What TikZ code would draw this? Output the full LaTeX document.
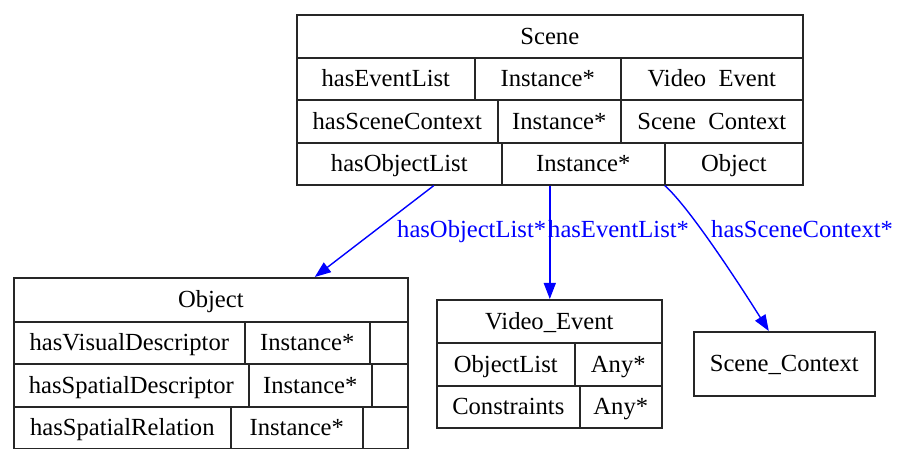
\documentclass[tikz,border=0pt]{standalone}
\usepackage{fontspec}
\setmainfont{Liberation Serif}
\usetikzlibrary{arrows.meta}

% one table cell: name, left, top, right, bottom, text
\newcommand{\tcell}[6]{%
  \node[tcellbox, minimum width={(#4-#2)*1pt}, minimum height={(#5-#3)*1pt}]
    (#1) at (#2,#3) {#6};}

\begin{document}
\begin{tikzpicture}[x=1pt, y=-1pt,
  tcellbox/.style={draw=black!85, line width=1.6pt, anchor=north west,
    inner sep=0pt, text height=20pt, text depth=4pt,
    font=\fontsize{24.6}{28}\selectfont},
  tablebox/.style={draw=black!85, line width=1.6pt, anchor=north west,
    inner sep=0pt},
  link/.style={draw={rgb,255:red,0;green,0;blue,255}, line width=1.4pt,
    -{Triangle[length=16pt, width=12pt]}},
  linklabel/.style={text={rgb,255:red,0;green,0;blue,255}, inner sep=0pt,
    anchor=base west, font=\fontsize{24.6}{28}\selectfont}]

\useasboundingbox[fill=white] (0,0) rectangle (898,449);

% Scene table
\node[tablebox, minimum width=506pt, minimum height=170pt] (scene) at (296,14) {};
\tcell{sceneT}{296}{14}{802}{57}{Scene}
\tcell{sA1}{296}{57}{474}{99}{hasEventList}
\tcell{sA2}{474}{57}{620}{99}{Instance*}
\tcell{sA3}{620}{57}{802}{99}{Video\ \ Event}
\tcell{sB1}{296}{99}{497}{142}{hasSceneContext}
\tcell{sB2}{497}{99}{620}{142}{Instance*}
\tcell{sB3}{620}{99}{802}{142}{Scene\ \ Context}
\tcell{sC1}{296}{142}{501}{184}{hasObjectList}
\tcell{sC2}{501}{142}{664}{184}{Instance*}
\tcell{sC3}{664}{142}{802}{184}{Object}

% Object table
\node[tablebox, minimum width=394pt, minimum height=171pt] (object) at (13,277) {};
\tcell{objT}{13}{277}{407}{321}{Object}
\tcell{oA1}{13}{321}{244}{363}{hasVisualDescriptor}
\tcell{oA2}{244}{321}{369}{363}{Instance*}
\tcell{oA3}{369}{321}{407}{363}{}
\tcell{oB1}{13}{363}{248}{406}{hasSpatialDescriptor}
\tcell{oB2}{248}{363}{371}{406}{Instance*}
\tcell{oB3}{371}{363}{407}{406}{}
\tcell{oC1}{13}{406}{230}{448}{hasSpatialRelation}
\tcell{oC2}{230}{406}{362}{448}{Instance*}
\tcell{oC3}{362}{406}{407}{448}{}

% Video_Event table
\node[tablebox, minimum width=225pt, minimum height=128pt] (ve) at (436,299) {};
\tcell{veT}{436}{299}{661}{342}{Video\_Event}
\tcell{vA1}{436}{342}{574}{385}{ObjectList}
\tcell{vA2}{574}{342}{661}{385}{Any*}
\tcell{vB1}{436}{385}{579}{427}{Constraints}
\tcell{vB2}{579}{385}{661}{427}{Any*}

% Scene_Context box
\tcell{sc}{693}{331}{874}{395}{Scene\_Context}

% connectors
\draw[link] ([xshift=-116pt]scene.south) -- ([xshift=104pt]object.north);
\draw[link] (scene.south) -- (scene.south |- ve.north);
\draw[link] ([xshift=115pt]scene.south)
  .. controls (689,207) and (738,282) .. ([xshift=-15.5pt]sc.north);

% connector labels
\node[linklabel] (lblObj) at (397,238) {hasObjectList*};
\node[linklabel] (lblEv) at (548,238) {hasEventList*};
\node[linklabel] (lblSc) at (711,238) {hasSceneContext*};

\end{tikzpicture}
\end{document}
